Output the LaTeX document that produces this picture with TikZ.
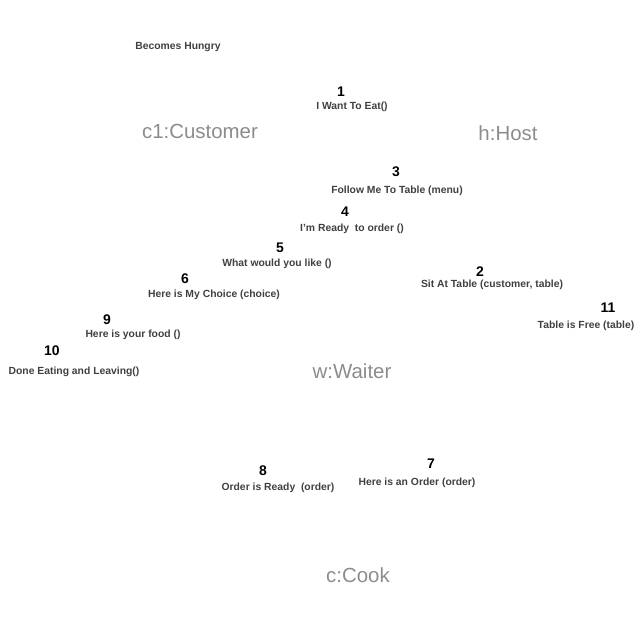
\documentclass[tikz,border=0pt]{standalone}
\usepackage{fontspec}
\setmainfont{Liberation Sans}
\usetikzlibrary{positioning}

\tikzset{
	msg/.style={inner sep=0pt, font=\fontsize{10.4}{12}\selectfont\bfseries, text=black!75},
	num/.style={inner sep=0pt, font=\fontsize{14}{16}\selectfont\bfseries, text=black},
	obj/.style={inner sep=0pt, font=\fontsize{20.5}{24}\selectfont, text=black!45}
}

\begin{document}
\begin{tikzpicture}[x=1bp, y=-1bp]
		\useasboundingbox (0,0) rectangle (644,626);

		\draw (200,131) node (cust) [obj] {c1:Customer};
		\draw (508,133) node (host) [obj] {h:Host};
		\draw (352,371) node (waiter) [obj] {w:Waiter};
		\draw (358,575) node (cook) [obj] {c:Cook};

		\draw (178,47) node (hungry) [msg] {Becomes Hungry};

		\draw (341,92) node (n1) [num] {1};
		\draw (352,107) node (m1) [msg] {I Want To Eat()};
		\draw (480,272) node (n2) [num] {2};
		\draw (492,285) node (m2) [msg] {Sit At Table (customer, table)};
		\draw (396,172) node (n3) [num] {3};
		\draw (397,191) node (m3) [msg] {Follow Me To Table (menu)};
		\draw (345,212) node (n4) [num] {4};
		\draw (352,229) node (m4) [msg] {I'm Ready\ \ to order ()};
		\draw (280,248) node (n5) [num] {5};
		\draw (277,264) node (m5) [msg] {What would you like ()};
		\draw (185,279) node (n6) [num] {6};
		\draw (214,295) node (m6) [msg] {Here is My Choice (choice)};
		\draw (431,464) node (n7) [num] {7};
		\draw (417,483) node (m7) [msg] {Here is an Order (order)};
		\draw (263,471) node (n8) [num] {8};
		\draw (278,488) node (m8) [msg] {Order is Ready\ \ (order)};
		\draw (107,320) node (n9) [num] {9};
		\draw (133,335) node (m9) [msg] {Here is your food ()};
		\draw (52,351) node (n10) [num] {10};
		\draw (74,372) node (m10) [msg] {Done Eating and Leaving()};
		\draw (608,308) node (n11) [num] {11};
		\draw (586,326) node (m11) [msg] {Table is Free (table)};

	\end{tikzpicture}
\end{document}
